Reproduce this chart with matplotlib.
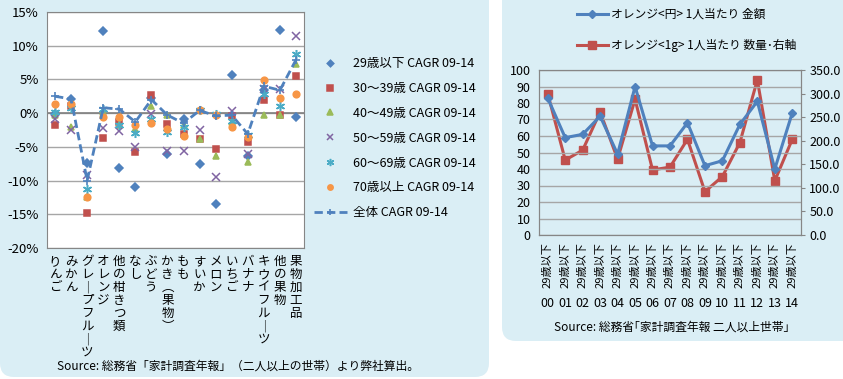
import numpy as np
import matplotlib
matplotlib.use("Agg")
import matplotlib.pyplot as plt
from matplotlib.patches import FancyBboxPatch
from matplotlib.transforms import blended_transform_factory

plt.rcParams['font.family'] = ['Noto Sans CJK JP', 'DejaVu Sans']

W, H = 843, 379
PANEL = '#DAEEF5'
GRID = '#A6A6A6'
SPINE = '#868686'

# ---------------------------------------------------------------------------
# left chart data (CAGR 09-14, %)
# ---------------------------------------------------------------------------
fruits = ['りんご', 'みかん', 'グレープフルーツ', 'オレンジ', '他の柑きつ類', 'なし',
          'ぶどう', 'かき（果物）', 'もも', 'すいか', 'メロン', 'いちご', 'バナナ',
          'キウイフルーツ', '他の果物', '果物加工品']
age_u29 = [-0.2, 2.1, -7.4, 12.2, -8.1, -10.9, 2.2, -6.1, -0.8, -7.5, -13.5, 5.6, -6.4, 3.4, 12.4, -0.5]
age_30s = [-1.8, 1.0, -14.8, -3.7, -1.3, -5.8, 2.7, -1.6, -3.1, -3.8, -5.3, -0.4, -4.3, 1.9, -0.3, 5.5]
age_40s = [-0.3, -2.1, -12.4, 0.1, -1.7, -2.3, 1.1, -0.3, -1.8, -3.8, -6.3, -1.3, -7.3, -0.3, -0.3, 7.3]
age_50s = [-0.8, -2.5, -9.1, -2.2, -2.7, -5.0, -0.1, -5.6, -5.6, -2.5, -9.5, 0.3, -6.1, 3.6, 3.6, 11.5]
age_60s = [0.1, 0.8, -11.2, 0.6, -1.8, -3.0, -0.8, -2.8, -2.0, 0.4, -0.1, -1.1, -3.3, 2.9, 1.1, 8.8]
age_70p = [1.3, 1.3, -12.5, -0.6, -0.6, -1.7, -1.5, -2.4, -3.4, 0.4, -0.3, -2.1, -3.6, 4.9, 2.2, 2.9]
total = [2.5, 2.1, -10.0, 0.8, 0.6, -1.3, 2.0, -0.3, -1.5, 0.4, -0.4, -0.3, -3.1, 4.0, 3.4, 7.9]

series = [
    ('29歳以下 CAGR 09-14', age_u29, 'D', '#4F81BD', 4.2),
    ('30～39歳 CAGR 09-14', age_30s, 's', '#C0504D', 4.8),
    ('40～49歳 CAGR 09-14', age_40s, '^', '#9BBB59', 5),
    ('50～59歳 CAGR 09-14', age_50s, 'x', '#8064A2', 5.5),
    ('60～69歳 CAGR 09-14', age_60s, (6, 2, 0), '#4BACC6', 6.5),
    ('70歳以上 CAGR 09-14', age_70p, 'o', '#F79646', 4.8),
]

# ---------------------------------------------------------------------------
# right chart data (orange, per person)
# ---------------------------------------------------------------------------
years = ['00', '01', '02', '03', '04', '05', '06', '07', '08', '09', '10', '11', '12', '13', '14']
yen = [83, 59, 61, 72, 49, 90, 54, 54, 68, 42, 45, 67, 81, 40, 74]
gram = [300, 159, 180, 261, 161, 288, 138, 144, 203, 92, 124, 196, 329, 115, 203]


def px_axes(l, t, r, b):
    return fig.add_axes([l / W, 1 - b / H, (r - l) / W, (b - t) / H])


fig = plt.figure(figsize=(W / 100, H / 100), dpi=100)

# rounded panels (pixel coords)
for x0, y0, x1, y1 in [(0, 2, 489, 392), (502, 38, 858, 392)]:
    fig.patches.append(FancyBboxPatch((x0 + 14, y0 + 14), x1 - x0 - 28, y1 - y0 - 28,
                                      boxstyle='round,pad=14', transform=None,
                                      fc=PANEL, ec='none', zorder=-10))

# ---------------------------------------------------------------------------
# left chart
# ---------------------------------------------------------------------------
ax = px_axes(47, 12, 304, 248)
x = np.arange(len(fruits))
handles = []
for name, vals, mk, col, ms in series:
    h, = ax.plot(x, vals, ls='none', marker=mk, color=col, ms=ms, mew=1.1,
                 label=name, zorder=3)
    handles.append(h)
h, = ax.plot(x, total, ls='--', lw=2, color='#4F81BD', marker='+', ms=6, mew=1.2,
             dashes=(3, 1.5), label='全体 CAGR 09-14', zorder=4)
handles.append(h)

ax.set_xlim(-0.5, len(fruits) - 0.5)
ax.set_ylim(-20, 15)
ax.set_yticks(np.arange(-20, 16, 5))
ax.set_yticklabels([f'{v}%' for v in range(-20, 16, 5)], fontsize=9.5)
ax.set_xticks([])
ax.yaxis.grid(True, color=GRID, lw=1)
ax.axhline(0, color='#808080', lw=1.2, zorder=2)
ax.set_axisbelow(True)
ax.tick_params(axis='y', length=0, pad=6)
for s in ax.spines.values():
    s.set_color(SPINE)

trans = blended_transform_factory(ax.transData, ax.transAxes)
vmap = {'ー': '｜', '（': '︵', '）': '︶'}
for i, name in enumerate(fruits):
    txt = '\n'.join(vmap.get(c, c) for c in name)
    ax.text(i, -0.03, txt, transform=trans, ha='center', va='top',
            fontsize=9, linespacing=1.0)

fig.legend(handles=handles, loc='upper left', bbox_to_anchor=(314 / W, 1 - 57 / H),
           frameon=False, fontsize=9, labelspacing=0.95, handlelength=2.6,
           handletextpad=0.5, borderpad=0, borderaxespad=0, markerscale=0.8)

fig.text(238 / W, 1 - 366 / H, 'Source: 総務省「家計調査年報」（二人以上の世帯）より弊社算出。',
         ha='center', va='center', fontsize=8.5)

# ---------------------------------------------------------------------------
# right chart
# ---------------------------------------------------------------------------
ax2 = px_axes(539, 70, 801, 235)
xr = np.arange(len(years))
ax3 = ax2.twinx()
l1, = ax2.plot(xr, yen, color='#4F81BD', lw=2.2, marker='D', ms=4.5,
               label='オレンジ<円> 1人当たり 金額', zorder=4)
l2, = ax3.plot(xr, gram, color='#C0504D', lw=2.2, marker='s', ms=5.5,
               label='オレンジ<1g> 1人当たり 数量･右軸', zorder=3)
ax2.set_zorder(ax3.get_zorder() + 1)
ax2.patch.set_visible(False)
ax3.patch.set_facecolor('white')

ax2.set_xlim(-0.5, len(years) - 0.5)
ax2.set_ylim(0, 100)
ax2.set_yticks(range(0, 101, 10))
ax3.set_ylim(0, 350)
ax3.set_yticks(range(0, 351, 50))
ax3.set_yticklabels([f'{v:.1f}' for v in range(0, 351, 50)], fontsize=9)
ax2.tick_params(axis='y', labelsize=9, length=0, pad=6)
ax3.tick_params(axis='y', length=3, color=SPINE, pad=3)
ax3.yaxis.grid(False)
ax2.yaxis.grid(True, color=GRID, lw=1)
ax2.set_xticks(xr)
ax2.set_xticklabels(['29歳以下'] * len(years), rotation=90, fontsize=8)
ax2.tick_params(axis='x', length=0, pad=5)
for a in (ax2, ax3):
    for s in a.spines.values():
        s.set_color(SPINE)

trans2 = blended_transform_factory(ax2.transData, ax2.transAxes)
for i, yr in enumerate(years):
    ax2.text(i, -0.415, yr, transform=trans2, ha='center', va='center', fontsize=9)

fig.legend(handles=[l1, l2], loc='upper left', bbox_to_anchor=(577 / W, 1 - 8 / H),
           frameon=False, fontsize=8.5, labelspacing=1.5, handlelength=2.6,
           handletextpad=0.3, borderpad=0, borderaxespad=0)

fig.text(672 / W, 1 - 327 / H, 'Source: 総務省｢家計調査年報 二人以上世帯｣',
         ha='center', va='center', fontsize=8.5)

fig.savefig('out.png', dpi=100)
